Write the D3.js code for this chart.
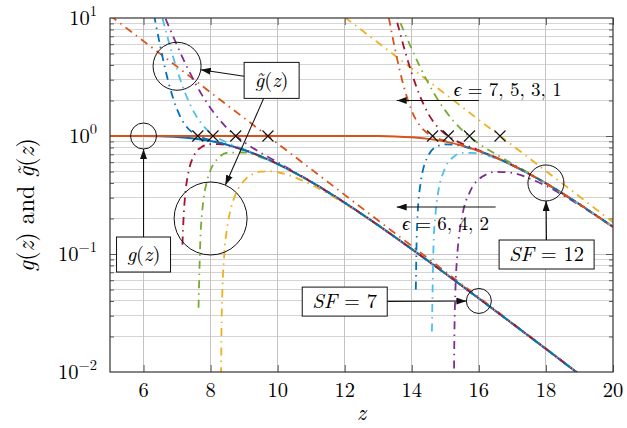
<!DOCTYPE html>
<html>
<head>
<meta charset="utf-8">
<title>g(z) and its truncated expansions</title>
<script src="https://cdn.jsdelivr.net/npm/d3@7"></script>
<style>
  body { margin: 0; background: #fff; }
  svg { display: block; }
  text { white-space: pre; }
</style>
</head>
<body>
<div id="chart"></div>
<script>
// ---- data: [z, value] ----
// SF = 7
const g7 = [[5,1.0],[5.5,0.9998],[6,0.9986],[6.5,0.9937],[7,0.980],[7.5,0.9525],[8,0.906],[8.5,0.841],[9,0.761],[9.5,0.671],[10,0.579],[10.5,0.490],[11,0.408],[11.5,0.335],[12,0.272],[12.5,0.219],[13,0.175],[14,0.110],[15,0.0683],[16,0.0420],[17,0.0257],[18,0.0157],[19,0.00954],[20,0.0058]];
const g7e1 = [[5,10.5],[6,6.37],[7,3.87],[8,2.34],[9,1.42],[10,0.862],[11,0.523],[12,0.317],[13,0.192],[14,0.117],[15,0.0708],[16,0.0429],[17,0.0260],[18,0.0158],[19,0.00958],[20,0.0058]];
const g7e2 = [[8.305,0.003],[8.32,0.018],[8.35,0.047],[8.4,0.092],[8.5,0.172],[8.6,0.240],[8.75,0.323],[9,0.419],[9.25,0.474],[9.5,0.499],[9.75,0.503],[10,0.493],[10.5,0.448],[11,0.387],[12,0.267],[13,0.174],[14,0.110],[15,0.0682],[16,0.0420],[17,0.0257],[18,0.0157],[19,0.00954],[20,0.0058]];
const g7e3 = [[6,28.4],[6.25,18.9],[6.5,12.6],[6.75,8.54],[7,5.85],[7.25,4.10],[7.5,2.96],[7.75,2.21],[8,1.72],[8.25,1.39],[8.5,1.16],[9,0.887],[9.5,0.720],[10,0.598],[10.5,0.497],[11,0.411],[12,0.273],[13,0.175],[14,0.110],[15,0.0683],[16,0.0420],[17,0.0257],[18,0.0157],[19,0.00954],[20,0.0058]];
const g7e4 = [[7.64,0.035],[7.7,0.145],[7.75,0.228],[7.9,0.422],[8,0.515],[8.25,0.659],[8.5,0.721],[9,0.725],[9.5,0.660],[10,0.576],[10.5,0.489],[11,0.408],[12,0.272],[13,0.175],[14,0.110],[15,0.0683],[16,0.0420],[17,0.0257],[18,0.0157],[19,0.00954],[20,0.0058]];
const g7e5 = [[6,43.7],[6.25,22.5],[6.5,11.7],[6.75,6.33],[7,3.63],[7.25,2.28],[7.5,1.60],[7.75,1.25],[8,1.06],[8.25,0.951],[8.5,0.877],[9,0.770],[9.5,0.673],[10,0.579],[10.5,0.490],[11,0.408],[12,0.272],[13,0.175],[14,0.110],[15,0.0683],[16,0.0420],[17,0.0257],[18,0.0157],[19,0.00954],[20,0.0058]];
const g7e6 = [[7.16,0.12],[7.2,0.219],[7.25,0.332],[7.35,0.508],[7.5,0.678],[7.75,0.813],[8,0.855],[8.25,0.854],[8.5,0.832],[9,0.760],[9.5,0.671],[10,0.579],[10.5,0.490],[11,0.408],[12,0.272],[13,0.175],[14,0.110],[15,0.0683],[16,0.0420],[17,0.0257],[18,0.0157],[19,0.00954],[20,0.0058]];
const g7e7 = [[6,32.8],[6.25,13.3],[6.5,5.74],[6.75,2.81],[7,1.68],[7.25,1.23],[7.5,1.05],[7.75,0.970],[8,0.921],[8.25,0.881],[8.5,0.843],[9,0.762],[9.5,0.671],[10,0.579],[10.5,0.490],[11,0.408],[12,0.272],[13,0.175],[14,0.110],[15,0.0683],[16,0.0420],[17,0.0257],[18,0.0157],[19,0.00954],[20,0.0058]];

// SF = 12
const g12 = [[5,1.0],[8,1.0],[11,1.0],[12,1.0],[12.5,0.9996],[13,0.9979],[13.5,0.9917],[14,0.9761],[14.5,0.9455],[15,0.896],[15.5,0.829],[16,0.747],[16.5,0.657],[17,0.565],[17.5,0.477],[18,0.397],[18.5,0.325],[19,0.264],[19.5,0.212],[20,0.170]];
const g12e1 = [[12,10.15],[13,6.16],[14,3.74],[15,2.27],[16,1.37],[17,0.833],[18,0.505],[19,0.307],[20,0.186]];
const g12e2 = [[15.254,0.005],[15.26,0.0107],[15.27,0.0204],[15.3,0.0488],[15.35,0.0934],[15.4,0.135],[15.5,0.208],[15.75,0.345],[16,0.430],[16.25,0.477],[16.5,0.4975],[17,0.486],[17.5,0.438],[18,0.378],[18.5,0.316],[19,0.2596],[19.5,0.2103],[20,0.1687]];
const g12e3 = [[13,26.1],[13.25,17.4],[13.5,11.7],[13.75,7.91],[14,5.44],[14.25,3.83],[14.5,2.78],[14.75,2.09],[15,1.64],[15.25,1.33],[15.5,1.12],[16,0.862],[16.5,0.702],[17,0.582],[17.5,0.484],[18,0.399],[18.5,0.326],[19,0.264],[19.5,0.212],[20,0.170]];
const g12e4 = [[14.6,0.022],[14.65,0.125],[14.7,0.209],[14.75,0.282],[15,0.539],[15.25,0.667],[15.5,0.720],[16,0.714],[16.5,0.647],[17,0.562],[17.5,0.476],[18,0.3965],[18.5,0.325],[19,0.264],[19.5,0.212],[20,0.170]];
const g12e5 = [[13,40.0],[13.25,20.6],[13.5,10.8],[13.75,5.86],[14,3.39],[14.25,2.16],[14.5,1.53],[14.75,1.21],[15,1.04],[15.25,0.933],[15.5,0.862],[16,0.755],[16.5,0.659],[17,0.566],[17.5,0.477],[18,0.397],[18.5,0.325],[19,0.264],[19.5,0.212],[20,0.170]];
const g12e6 = [[14.12,0.05],[14.15,0.151],[14.25,0.378],[14.5,0.691],[14.75,0.814],[15,0.849],[15.25,0.845],[15.5,0.820],[16,0.745],[16.5,0.657],[17,0.565],[17.5,0.477],[18,0.397],[18.5,0.325],[19,0.264],[19.5,0.212],[20,0.170]];
const g12e7 = [[13,30.9],[13.25,12.6],[13.5,5.46],[13.75,2.70],[14,1.63],[14.25,1.21],[14.5,1.04],[14.75,0.960],[15,0.910],[15.25,0.870],[15.5,0.831],[16,0.747],[16.5,0.657],[17,0.565],[17.5,0.477],[18,0.397],[18.5,0.325],[19,0.264],[19.5,0.212],[20,0.170]];

// crosses on the g = 1 line
const marks7 = [7.62, 8.07, 8.75, 9.71];
const marks12 = [14.62, 15.09, 15.72, 16.63];

// ticks
const xTicks = [6, 8, 10, 12, 14, 16, 18, 20];
const yTicks = [0.01, 0.1, 1, 10];
const yTickExp = ["\u22122", "\u22121", "0", "1"];

// colours (matlab default order)
const C = {blue: "#0072BD", orange: "#D95319", yellow: "#EDB120", purple: "#7E2F8E",
           green: "#77AC30", lightblue: "#4DBEEE", crimson: "#A2142F"};

const series = [
  {d: g7, c: C.blue, solid: true},
  {d: g7e1, c: C.orange}, {d: g7e2, c: C.yellow}, {d: g7e3, c: C.purple}, {d: g7e4, c: C.green},
  {d: g7e5, c: C.lightblue}, {d: g7e6, c: C.crimson}, {d: g7e7, c: C.blue},
  {d: g12, c: C.orange, solid: true},
  {d: g12e1, c: C.yellow}, {d: g12e2, c: C.purple}, {d: g12e3, c: C.green}, {d: g12e4, c: C.lightblue},
  {d: g12e5, c: C.crimson}, {d: g12e6, c: C.blue}, {d: g12e7, c: C.orange}
];

// ---- layout ----
const W = 627, H = 428;
const margin = {top: 18, right: 14, bottom: 56, left: 110};
const width = W - margin.left - margin.right;
const height = H - margin.top - margin.bottom;
const FONT = '"Latin Modern Roman"';
const FS = 20.5;

const svg = d3.select("#chart").append("svg").attr("width", W).attr("height", H);
const g = svg.append("g").attr("transform", `translate(${margin.left},${margin.top})`);

const x = d3.scaleLinear().domain([5, 20]).range([0, width]);
const y = d3.scaleLog().domain([0.01, 10]).range([height, 0]);

// minor log values 2..9 per decade
const yMinor = [];
[0.01, 0.1, 1].forEach(dec => { for (let k = 2; k <= 9; k++) yMinor.push(k * dec); });

// grid
const grid = g.append("g").attr("shape-rendering", "crispEdges");
grid.selectAll(".gm").data(yMinor).join("line")
  .attr("x1", 0).attr("x2", width).attr("y1", d => y(d)).attr("y2", d => y(d))
  .attr("stroke", "#d4d4d4").attr("stroke-width", 1);
grid.selectAll(".gy").data([0.1, 1]).join("line")
  .attr("x1", 0).attr("x2", width).attr("y1", d => y(d)).attr("y2", d => y(d))
  .attr("stroke", "#c4c4c4").attr("stroke-width", 1);
grid.selectAll(".gx").data(xTicks.slice(0, -1)).join("line")
  .attr("x1", d => x(d)).attr("x2", d => x(d)).attr("y1", 0).attr("y2", height)
  .attr("stroke", "#c4c4c4").attr("stroke-width", 1);

// tick marks (inward)
function ticks(sel) {
  sel.select(".domain").remove();
  sel.attr("color", "#5a5a5a").selectAll("line").attr("stroke-width", 1);
}
g.append("g").attr("transform", `translate(0,${height})`)
  .call(d3.axisBottom(x).tickValues(xTicks).tickSize(-7).tickFormat("")).call(ticks);
g.append("g")
  .call(d3.axisTop(x).tickValues(xTicks).tickSize(-7).tickFormat("")).call(ticks);
g.append("g").call(d3.axisLeft(y).tickValues([0.1, 1]).tickSize(-7).tickFormat("")).call(ticks);
g.append("g").call(d3.axisLeft(y).tickValues(yMinor).tickSize(-4).tickFormat("")).call(ticks);
g.append("g").attr("transform", `translate(${width},0)`)
  .call(d3.axisRight(y).tickValues([0.1, 1]).tickSize(-7).tickFormat("")).call(ticks);
g.append("g").attr("transform", `translate(${width},0)`)
  .call(d3.axisRight(y).tickValues(yMinor).tickSize(-4).tickFormat("")).call(ticks);

// curves
g.append("clipPath").attr("id", "clip").append("rect").attr("width", width).attr("height", height);
const line = d3.line().x(d => x(d[0])).y(d => y(d[1])).curve(d3.curveMonotoneX);
const plot = g.append("g").attr("clip-path", "url(#clip)");
plot.selectAll("path").data(series).join("path")
  .attr("d", s => line(s.d))
  .attr("fill", "none")
  .attr("stroke", s => s.c)
  .attr("stroke-width", s => s.solid ? 2 : 1.8)
  .attr("stroke-dasharray", s => s.solid ? null : "8,5,1.5,5");

// crosses
const xs = 5.5;
g.append("g").selectAll("path").data(marks7.concat(marks12)).join("path")
  .attr("d", d => `M${x(d) - xs},${y(1) - xs}L${x(d) + xs},${y(1) + xs}M${x(d) - xs},${y(1) + xs}L${x(d) + xs},${y(1) - xs}`)
  .attr("stroke", "#111").attr("stroke-width", 1.1).attr("fill", "none");

// frame
g.append("rect").attr("width", width).attr("height", height)
  .attr("fill", "none").attr("stroke", "#333").attr("stroke-width", 1.2);

// tick labels
g.selectAll(".xl").data(xTicks).join("text")
  .attr("x", d => x(d)).attr("y", height + 25).attr("text-anchor", "middle")
  .style("font-family", FONT).attr("font-size", FS).text(d => d);
const yl = g.selectAll(".yl").data(yTicks).join("text")
  .attr("x", -13).attr("y", d => y(d) + 7).attr("text-anchor", "end")
  .style("font-family", FONT).attr("font-size", FS);
yl.append("tspan").text("10");
yl.append("tspan").attr("dy", -9).attr("font-size", 14.5).text((d, i) => yTickExp[i]);

// math-ish text: parts [string, italic]
function mathText(sel, parts, size) {
  const t = sel.append("text").attr("font-size", size).style("font-family", FONT);
  parts.forEach(([s, it]) => t.append("tspan").attr("font-style", it ? "italic" : null).text(s));
  return t;
}

// axis labels
mathText(g, [["z", true]], 22)
  .attr("x", width / 2).attr("y", height + 48).attr("text-anchor", "middle");
mathText(svg, [["g", true], ["(", false], ["z", true], [")", false], [" and ", false],
               ["g\u0303", true], ["(", false], ["z", true], [")", false]], 24)
  .attr("text-anchor", "middle")
  .attr("transform", "translate(34,205) rotate(-90)");

// ---- annotations ----
const ann = g.append("g");
svg.append("defs").append("marker")
  .attr("id", "arr").attr("viewBox", "0 0 10 7").attr("refX", 10).attr("refY", 3.5)
  .attr("markerWidth", 10).attr("markerHeight", 7).attr("markerUnits", "userSpaceOnUse")
  .attr("orient", "auto")
  .append("path").attr("d", "M0,0L10,3.5L0,7z").attr("fill", "#111");

const circles = {
  g:    {z: 6,  v: 1.0,  r: 13},
  gt:   {z: 7,  v: 3.9,  r: 24},
  gt2:  {z: 8,  v: 0.2,  r: 36.5},
  sf12: {z: 18, v: 0.4,  r: 18},
  sf7:  {z: 16, v: 0.04, r: 12.5}
};
Object.values(circles).forEach(c => {
  ann.append("circle").attr("cx", x(c.z)).attr("cy", y(c.v)).attr("r", c.r)
    .attr("fill", "none").attr("stroke", "#111").attr("stroke-width", 1);
});

const boxes = [
  {z: 6,     v: 0.099,  w: 54, h: 35, parts: [["g", true], ["(", false], ["z", true], [")", false]], to: ["g"]},
  {z: 9.82,  v: 2.96,   w: 55, h: 36, parts: [["g\u0303", true], ["(", false], ["z", true], [")", false]], to: ["gt", "gt2"]},
  {z: 18.02, v: 0.099,  w: 95, h: 29, parts: [["SF", true], [" = 12", false]], to: ["sf12"]},
  {z: 12,    v: 0.0395, w: 85, h: 29, parts: [["SF", true], [" = 7", false]], to: ["sf7"]}
];
boxes.forEach(b => {
  const cx = x(b.z), cy = y(b.v);
  b.to.forEach(k => {
    const c = circles[k];
    const tx = x(c.z), ty = y(c.v);
    const dx = tx - cx, dy = ty - cy, len = Math.hypot(dx, dy);
    // leave the box on its border, stop on the circle
    const t0 = Math.min(dx ? (b.w / 2) / Math.abs(dx) : Infinity, dy ? (b.h / 2) / Math.abs(dy) : Infinity);
    const t1 = 1 - c.r / len;
    ann.append("line")
      .attr("x1", cx + dx * t0).attr("y1", cy + dy * t0)
      .attr("x2", cx + dx * t1).attr("y2", cy + dy * t1)
      .attr("stroke", "#111").attr("stroke-width", 1.1).attr("marker-end", "url(#arr)");
  });
  ann.append("rect").attr("x", cx - b.w / 2).attr("y", cy - b.h / 2).attr("width", b.w).attr("height", b.h)
    .attr("fill", "#fff").attr("stroke", "#111").attr("stroke-width", 1);
  mathText(ann, b.parts, FS).attr("x", cx).attr("y", cy + 6.5).attr("text-anchor", "middle");
});

// epsilon arrows
const epsArrows = [
  {z0: 16, z1: 13.55, v: 2, label: "7, 5, 3, 1", tz: 16.86, tv: 2.48},
  {z0: 16.5, z1: 13.55, v: 0.25, label: "6, 4, 2", tz: 15.01, tv: 0.183}
];
epsArrows.forEach(a => {
  ann.append("line").attr("x1", x(a.z0)).attr("x2", x(a.z1)).attr("y1", y(a.v)).attr("y2", y(a.v))
    .attr("stroke", "#111").attr("stroke-width", 1.1).attr("marker-end", "url(#arr)");
  mathText(ann, [["\u03f5", true], [" = " + a.label, false]], 19)
    .attr("x", x(a.tz)).attr("y", y(a.tv) + 7).attr("text-anchor", "middle");
});
</script>
</body>
</html>
